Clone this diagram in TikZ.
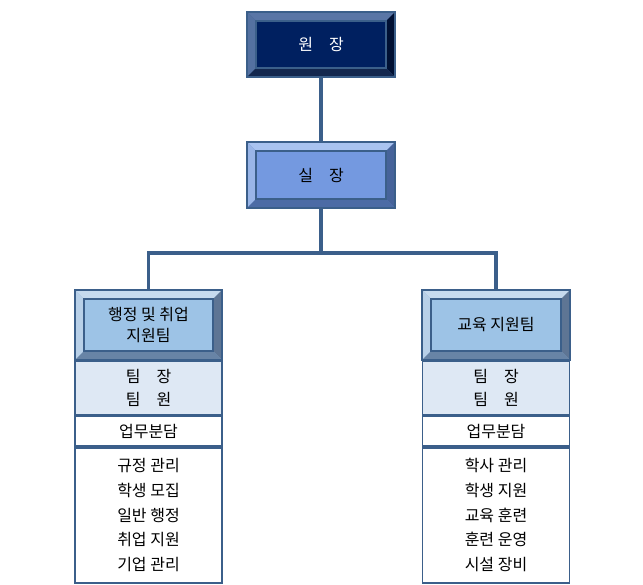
\documentclass[tikz,border=0pt]{standalone}
\usepackage{fontspec}
\setmainfont{Noto Sans CJK KR}
\usetikzlibrary{positioning}
\definecolor{rimc}{HTML}{3B5F8A}
\definecolor{topmid}{HTML}{3E5C8E}\definecolor{toplt}{HTML}{5A76A6}\definecolor{topdk}{HTML}{001033}\definecolor{topin}{HTML}{002060}
\definecolor{submid}{HTML}{5A7DC0}\definecolor{sublt}{HTML}{A9C3F0}\definecolor{subdk}{HTML}{46639A}\definecolor{subin}{HTML}{7499E0}
\definecolor{teammid}{HTML}{7FA6CF}\definecolor{teamlt}{HTML}{C6DAEE}\definecolor{teamdk}{HTML}{5E7594}\definecolor{teamin}{HTML}{9DC3E6}
\definecolor{paleblue}{HTML}{DEE8F4}
\tikzset{
  outer/.style={rectangle,draw=rimc,line width=1.2pt,inner sep=0pt},
  inner/.style={rectangle,inner sep=0pt,align=center,font=\fontsize{12}{16}\selectfont},
  cell/.style={rectangle,draw=rimc,line width=1.2pt,inner sep=0pt,align=center,font=\fontsize{12}{17}\selectfont,minimum width=147*0.75pt},
  link/.style={draw=rimc,line width=2.4pt}
}
% #1 name, #2 position, #3 width, #4 height, #5 colour prefix, #6 text colour, #7 text
\newcommand\bevelbox[7]{%
  \node[outer,fill=#5mid,minimum width=#3*0.75pt,minimum height=#4*0.75pt] (#1) at #2 {};
  \fill[#5lt] (#1.north west) -- (#1.north east) -- ([shift={(-9,9)}]#1.north east) -- ([shift={(9,9)}]#1.north west) -- cycle;
  \fill[#5lt!80!#5mid] (#1.north west) -- (#1.south west) -- ([shift={(9,-9)}]#1.south west) -- ([shift={(9,9)}]#1.north west) -- cycle;
  \fill[#5dk] (#1.north east) -- (#1.south east) -- ([shift={(-9,-9)}]#1.south east) -- ([shift={(-9,9)}]#1.north east) -- cycle;
  \fill[#5dk!70!#5mid] (#1.south west) -- (#1.south east) -- ([shift={(-9,-9)}]#1.south east) -- ([shift={(9,-9)}]#1.south west) -- cycle;
  \node[inner,fill=#5in,draw=rimc,line width=0.8pt,text=#6,minimum width=#3*0.75pt-18*0.75pt,minimum height=#4*0.75pt-18*0.75pt] (#1-in) at #2 {#7};
  \node[outer,minimum width=#3*0.75pt,minimum height=#4*0.75pt] at #2 {};
}
\begin{document}
\begin{tikzpicture}[x=0.75pt,y=-0.75pt]
\useasboundingbox (0,0) rectangle (643,585);

% head and office
\bevelbox{head}{(321,44.5)}{148}{65}{top}{white}{원\hspace{1em}장}
\bevelbox{office}{(321,175)}{148}{66}{sub}{black}{실\hspace{1em}장}

% teams
\bevelbox{teamA}{(148.5,325)}{147}{70}{team}{black}{행정 및 취업\\지원팀}
\bevelbox{teamB}{(496,325)}{148}{70}{team}{black}{교육 지원팀}

\node[cell,fill=paleblue,minimum height=53*0.75pt,below=0pt of teamA] (leadA) {팀\hspace{1em}장\\팀\hspace{1em}원};
\node[cell,minimum height=30*0.75pt,below=0pt of leadA] (dutyA) {업무분담};
\node[cell,minimum height=135*0.75pt,below=0pt of dutyA,font=\fontsize{12}{18.5}\selectfont] (listA) {규정 관리\\학생 모집\\일반 행정\\취업 지원\\기업 관리};

\node[cell,fill=paleblue,minimum height=53*0.75pt,below=0pt of teamB] (leadB) {팀\hspace{1em}장\\팀\hspace{1em}원};
\node[cell,minimum height=30*0.75pt,below=0pt of leadB] (dutyB) {업무분담};
\node[cell,minimum height=135*0.75pt,below=0pt of dutyB,font=\fontsize{12}{18.5}\selectfont] (listB) {학사 관리\\학생 지원\\교육 훈련\\훈련 운영\\시설 장비};

% connectors
\coordinate (split) at (321,253);
\draw[link] (head) -- (office);
\draw[link] (office) -- (split);
\draw[link] (teamA.north) |- (split) -| (teamB.north);
\end{tikzpicture}
\end{document}
